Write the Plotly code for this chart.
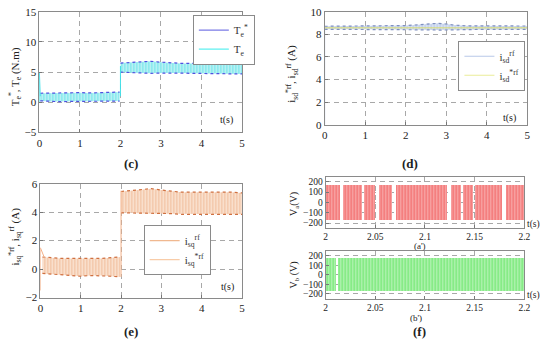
import plotly.graph_objects as go

# ---------------- data ----------------
# (c) torque
c_t1 = [0.02, 0.25, 0.5, 0.75, 1.0, 1.25, 1.5, 1.75, 1.98]
c_up1 = [1.5, 1.55, 1.5, 1.55, 1.6, 1.55, 1.6, 1.65, 1.7]
c_lo1 = [0.25, 0.15, 0.1, 0.15, 0.15, 0.1, 0.15, 0.2, 0.2]
c_t2 = [2.0, 2.25, 2.5, 2.75, 3.0, 3.25, 3.5, 3.75, 4.0, 4.25, 4.5, 4.75, 5.0]
c_up2 = [6.5, 6.6, 6.7, 6.8, 6.65, 6.5, 6.45, 6.45, 6.45, 6.45, 6.45, 6.45, 6.45]
c_lo2 = [5.0, 4.9, 4.8, 4.8, 4.85, 4.9, 4.85, 4.8, 4.8, 4.75, 4.7, 4.7, 4.7]
c_start_t = [0.0, 0.0, 0.02]
c_start_v = [0.0, 5.0, 1.0]
c_step_t = [2.0, 2.0]
c_step_v = [1.0, 6.0]

# (d) d-axis current
d_t = [0, 0.5, 1.0, 1.5, 2.0, 2.3, 2.6, 2.8, 3.0, 3.2, 3.5, 4.0, 4.5, 5.0]
d_up = [8.72, 8.72, 8.72, 8.74, 8.78, 8.85, 8.92, 8.98, 8.92, 8.82, 8.76, 8.74, 8.74, 8.74]
d_lo = [8.45, 8.45, 8.45, 8.45, 8.45, 8.42, 8.40, 8.38, 8.40, 8.43, 8.45, 8.45, 8.45, 8.45]
d_ref_t = [0.0, 5.0]
d_ref_v = [8.58, 8.58]
d_start_t = [0.0, 0.0]
d_start_v = [0.0, 8.58]

# (e) q-axis current
e_t1 = [0.05, 0.25, 0.5, 0.75, 1.0, 1.25, 1.5, 1.75, 1.98]
e_up1 = [0.85, 0.8, 0.75, 0.75, 0.75, 0.7, 0.75, 0.8, 0.85]
e_lo1 = [-0.3, -0.35, -0.4, -0.45, -0.5, -0.45, -0.45, -0.5, -0.55]
e_t2 = [2.0, 2.25, 2.5, 2.75, 3.0, 3.25, 3.5, 3.75, 4.0, 4.25, 4.5, 4.75, 5.0]
e_up2 = [5.45, 5.5, 5.6, 5.65, 5.55, 5.45, 5.4, 5.4, 5.4, 5.45, 5.4, 5.4, 5.35]
e_lo2 = [3.95, 3.95, 3.9, 3.9, 3.9, 3.9, 3.85, 3.85, 3.9, 3.9, 3.85, 3.85, 3.85]
e_start_t = [0.0, 0.0, 0.1]
e_start_v = [-1.5, 1.5, 0.8]
e_step_t = [2.0, 2.0]
e_step_v = [-0.55, 5.5]

# (f) inverter voltages: switching-active intervals
va_on_start = [2.000, 2.017, 2.038, 2.053, 2.070, 2.126, 2.138, 2.150, 2.181]
va_on_end = [2.014, 2.036, 2.049, 2.066, 2.122, 2.136, 2.148, 2.177, 2.200]
va_level = 170
vb_on_start = [2.000, 2.012]
vb_on_end = [2.010, 2.200]
vb_level = 175

f_ticks = [2.0, 2.05, 2.1, 2.15, 2.2]
f_ticktext = ["2", "2.05", "2.1", "2.15", "2.2"]

# ---------------- figure ----------------
W, H = 550, 348
SERIF = "Liberation Serif, Times New Roman, serif"

def px_x(a, b):
    return [a / W, b / W]

def px_y(top, bottom):
    return [1 - bottom / H, 1 - top / H]

fig = go.Figure()

def band(t, up, lo, xa, ya, fg, bg, edge, edge_dash="dot"):
    fig.add_trace(go.Scatter(
        x=list(t) + list(t)[::-1], y=list(up) + list(lo)[::-1],
        xaxis=xa, yaxis=ya, mode="lines", fill="toself",
        line=dict(width=0), fillcolor=bg,
        fillpattern=dict(shape="|", fgcolor=fg, bgcolor=bg, size=3, solidity=0.45),
        hoverinfo="skip", showlegend=False))
    for v in (up, lo):
        fig.add_trace(go.Scatter(x=t, y=v, xaxis=xa, yaxis=ya, mode="lines",
                                 line=dict(color=edge, width=1.2, dash=edge_dash),
                                 hoverinfo="skip", showlegend=False))

def line(t, v, xa, ya, color, width=1.0):
    fig.add_trace(go.Scatter(x=t, y=v, xaxis=xa, yaxis=ya, mode="lines",
                             line=dict(color=color, width=width),
                             hoverinfo="skip", showlegend=False))

def legend_item(name, color, xa, ya, leg):
    fig.add_trace(go.Scatter(x=[None], y=[None], xaxis=xa, yaxis=ya, mode="lines",
                             name=name, line=dict(color=color, width=1.2),
                             legend=leg, showlegend=True))

# (c)
band(c_t1, c_up1, c_lo1, "x", "y", "#22d8e0", "#c4f3f5", "#5050e0")
band(c_t2, c_up2, c_lo2, "x", "y", "#22d8e0", "#c4f3f5", "#5050e0")
line(c_start_t, c_start_v, "x", "y", "#40e0e8")
line(c_step_t, c_step_v, "x", "y", "#40e0e8")
legend_item("T<sub>e</sub><sup>*</sup>", "#7a7ae6", "x", "y", "legend")
legend_item("T<sub>e</sub>", "#5ff0f0", "x", "y", "legend")

# (d)
band(d_t, d_up, d_lo, "x2", "y2", "#9fb4dc", "#dbe4f4", "#7f90bf")
line(d_ref_t, d_ref_v, "x2", "y2", "#d8dc70", 1.0)
line(d_start_t, d_start_v, "x2", "y2", "#b8c8e8")
legend_item("i<sub>sd</sub><sup>rf</sup>", "#b8c8e8", "x2", "y2", "legend2")
legend_item("i<sub>sd</sub><sup>*rf</sup>", "#eaec98", "x2", "y2", "legend2")

# (e)
band(e_t1, e_up1, e_lo1, "x3", "y3", "#e89a68", "#fbe5d5", "#d07040")
band(e_t2, e_up2, e_lo2, "x3", "y3", "#e89a68", "#fbe5d5", "#d07040")
line(e_start_t, e_start_v, "x3", "y3", "#f3b088")
line(e_step_t, e_step_v, "x3", "y3", "#f3b088")
legend_item("i<sub>sq</sub><sup>rf</sup>", "#f0b890", "x3", "y3", "legend3")
legend_item("i<sub>sq</sub><sup>*rf</sup>", "#f8cca8", "x3", "y3", "legend3")

# (f)
def pwm(starts, ends, level, xa, ya, fg, bg):
    fig.add_trace(go.Bar(
        x=[(s + e) / 2 for s, e in zip(starts, ends)],
        width=[e - s for s, e in zip(starts, ends)],
        y=[2 * level] * len(starts), base=[-level] * len(starts),
        xaxis=xa, yaxis=ya,
        marker=dict(color=bg, line=dict(width=0),
                    pattern=dict(shape="|", fgcolor=fg, bgcolor=bg, size=3, solidity=0.45)),
        hoverinfo="skip", showlegend=False))

pwm(va_on_start, va_on_end, va_level, "x4", "y4", "#ee3030", "#f7a8a8")
pwm(vb_on_start, vb_on_end, vb_level, "x5", "y5", "#2ede2e", "#b6f2b6")

tickfont = dict(family=SERIF, size=11, color="#222")
tickfont_f = dict(family=SERIF, size=9.5, color="#222")

def axis(domain, rng, dtick=None, font=tickfont, anchor=None, **kw):
    d = dict(domain=domain, range=rng, showline=True, mirror=True, linecolor="#8a8a8a",
             linewidth=1, showgrid=True, gridcolor="#a8a8a8", griddash="5px,4px",
             gridwidth=1, zeroline=False, ticks="inside", ticklen=3, tickcolor="#777",
             tickfont=font, fixedrange=True)
    if dtick is not None:
        d["dtick"] = dtick
        d["tick0"] = 0
    if anchor:
        d["anchor"] = anchor
    d.update(kw)
    return d

legend_common = dict(bgcolor="white", bordercolor="#8a8a8a", borderwidth=1,
                     font=dict(family=SERIF, size=11, color="#333"),
                     itemwidth=30, xanchor="left", yanchor="top",
                     tracegroupgap=0)

fig.update_layout(
    width=W, height=H, margin=dict(l=0, r=0, t=0, b=0),
    paper_bgcolor="white", plot_bgcolor="white", barmode="overlay",
    bargap=0,
    xaxis=axis(px_x(37, 243), [0, 5], 1, anchor="y"),
    yaxis=axis(px_y(6, 131), [-5, 15], 5, anchor="x"),
    xaxis2=axis(px_x(327, 533), [0, 5], 1, anchor="y2"),
    yaxis2=axis(px_y(6, 123), [0, 10], 2, anchor="x2"),
    xaxis3=axis(px_x(38, 243), [0, 5], 1, anchor="y3"),
    yaxis3=axis(px_y(184, 302), [-2, 6], 2, anchor="x3"),
    xaxis4=axis(px_x(328, 530), [2, 2.2], font=tickfont_f, anchor="y4",
                tickvals=f_ticks, ticktext=f_ticktext),
    yaxis4=axis(px_y(177, 230), [-248, 248], 100, font=tickfont_f, anchor="x4"),
    xaxis5=axis(px_x(328, 530), [2, 2.2], font=tickfont_f, anchor="y5",
                tickvals=f_ticks, ticktext=f_ticktext),
    yaxis5=axis(px_y(254, 303), [-250, 250], 100, font=tickfont_f, anchor="x5"),
    legend=dict(legend_common, x=193 / W, y=1 - 9 / H),
    legend2=dict(legend_common, x=463 / W, y=1 - 36 / H),
    legend3=dict(legend_common, x=143 / W, y=1 - 227 / H),
)

def note(text, x, y, size=11, angle=0, bold=False):
    if bold:
        text = "<b>" + text + "</b>"
    fig.add_annotation(text=text, x=x / W, y=1 - y / H, xref="paper", yref="paper",
                       showarrow=False, textangle=angle, xanchor="center", yanchor="middle",
                       font=dict(family=SERIF, size=size, color="#222"))

# axis titles
note("T<sub>e</sub><sup>*</sup>, T<sub>e</sub> (N.m)", 13, 73, 11, -90)
note("i<sub>sd</sub><sup>*rf</sup>, i<sub>sd</sub><sup>rf</sup> (A)", 293, 70, 11, -90)
note("i<sub>sq</sub><sup>*rf</sup>, i<sub>sq</sub><sup>rf</sup> (A)", 12, 239, 11, -90)
note("V<sub>a</sub>(V)", 297, 205, 10, -90)
note("V<sub>b</sub> (V)", 296, 279, 10, -90)

# t(s) labels
note("t(s)", 227, 118, 10)
note("t(s)", 515, 116, 10)
note("t(s)", 228, 291, 10)
note("t(s)", 539, 226, 9.5)
note("t(s)", 539, 300, 9.5)

# panel labels
note("(c)", 130, 163, 13, bold=True)
note("(d)", 414, 163, 13, bold=True)
note("(e)", 130, 337, 13, bold=True)
note("(f)", 423, 337, 13, bold=True)
note("(a')", 424, 249, 9)
note("(b')", 420, 323, 9)

fig.write_html("out.html", post_script="document.body.style.margin='0';",
               config={"displayModeBar": False})
